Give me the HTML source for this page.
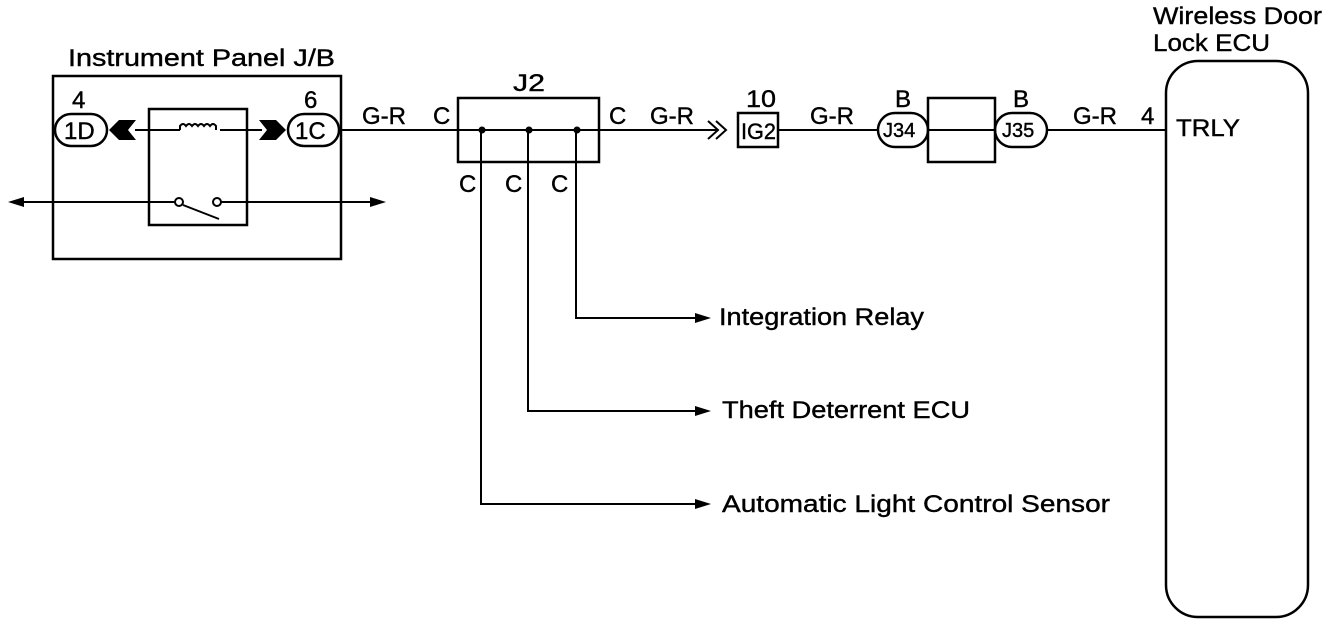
<!DOCTYPE html>
<html><head><meta charset="utf-8"><style>
html,body{margin:0;padding:0;background:#fff;width:1344px;height:626px;overflow:hidden}
text{font-family:"Liberation Sans",sans-serif;fill:#000;stroke:#000;stroke-width:0.4}
</style></head><body>
<svg width="1344" height="626" viewBox="0 0 1344 626" xmlns="http://www.w3.org/2000/svg">
<g fill="none" stroke="#000" stroke-width="2.5">
<rect x="53" y="76" width="288" height="183"/>
<rect x="149" y="109" width="98" height="116"/>
<rect x="55" y="114" width="52" height="32" rx="16"/>
<rect x="288" y="114" width="51" height="32" rx="16"/>
<line x1="135" y1="130" x2="180" y2="130" stroke-width="2"/>
<line x1="220" y1="130" x2="262" y2="130" stroke-width="2"/>
<path d="M180 130 v-4 q3 -4 6 0 q3 -4 6 0 q3 -4 6 0 q3 -4 6 0 q3 -4 6 0 q3 -4 6 0 v4" stroke-width="2"/>
<line x1="16" y1="202" x2="175" y2="202" stroke-width="2"/>
<line x1="221" y1="202" x2="372" y2="202" stroke-width="2"/>
<circle cx="179" cy="202" r="4" stroke-width="2"/>
<circle cx="217" cy="202" r="4" stroke-width="2"/>
<line x1="183" y1="205" x2="219" y2="219" stroke-width="2"/>
<line x1="339" y1="130" x2="718" y2="130" stroke-width="2"/>
<rect x="458" y="98" width="141" height="64"/>
<path d="M708 121 l10 9 l-10 9 M716 121 l10 9 l-10 9" stroke-width="2"/>
<rect x="738" y="113" width="40" height="34"/>
<line x1="778" y1="130" x2="878" y2="130" stroke-width="2"/>
<rect x="878" y="113" width="50" height="34" rx="17"/>
<rect x="928" y="98" width="67" height="64"/>
<line x1="928" y1="130" x2="995" y2="130" stroke-width="2"/>
<rect x="995" y="113" width="52" height="34" rx="17"/>
<line x1="1047" y1="130" x2="1166" y2="130" stroke-width="2"/>
<rect x="1166" y="61" width="142" height="556" rx="32"/>
<path d="M576 130 V318 H700" stroke-width="2"/>
<path d="M528 130 V411 H700" stroke-width="2"/>
<path d="M481 130 V504 H700" stroke-width="2"/>
</g>
<g fill="#000">
<path d="M109 130 l10 -10 h17 l-8 10 l8 10 h-17z"/>
<path d="M286 130 l-10 -10 h-17 l8 10 l-8 10 h17z"/>
<path d="M8 202 l16 -5 v10z"/>
<path d="M386 202 l-16 -5 v10z"/>
<circle cx="482" cy="130" r="3.5"/><circle cx="529" cy="130" r="3.5"/><circle cx="577" cy="130" r="3.5"/>
<path d="M711 318 l-16 -5 v10z"/>
<path d="M711 411 l-16 -5 v10z"/>
<path d="M711 504 l-16 -5 v10z"/>
</g>
<g font-size="24">
<text x="68" y="66" textLength="267" lengthAdjust="spacingAndGlyphs">Instrument Panel J/B</text>
<text x="72" y="108">4</text>
<text x="304" y="108">6</text>
<text x="64" y="139">1D</text>
<text x="295" y="139">1C</text>
<text x="362" y="124" textLength="44" lengthAdjust="spacingAndGlyphs">G-R</text>
<text x="433" y="124">C</text>
<text x="513" y="91" textLength="32" lengthAdjust="spacingAndGlyphs">J2</text>
<text x="609" y="124">C</text>
<text x="650" y="124" textLength="44" lengthAdjust="spacingAndGlyphs">G-R</text>
<text x="459" y="192">C</text>
<text x="505" y="192">C</text>
<text x="551" y="192">C</text>
<text x="746" y="107" textLength="30" lengthAdjust="spacingAndGlyphs">10</text>
<text x="741" y="139" font-size="22" textLength="35" lengthAdjust="spacingAndGlyphs">IG2</text>
<text x="810" y="124" textLength="44" lengthAdjust="spacingAndGlyphs">G-R</text>
<text x="895" y="107">B</text>
<text x="1013" y="107">B</text>
<text x="1073" y="124" textLength="44" lengthAdjust="spacingAndGlyphs">G-R</text>
<text x="1141" y="124">4</text>
<text x="1176" y="136" textLength="64" lengthAdjust="spacingAndGlyphs">TRLY</text>
<text x="1153" y="24" textLength="169" lengthAdjust="spacingAndGlyphs">Wireless Door</text>
<text x="1153" y="51" textLength="117" lengthAdjust="spacingAndGlyphs">Lock ECU</text>
<text x="719" y="325" textLength="205" lengthAdjust="spacingAndGlyphs">Integration Relay</text>
<text x="722" y="418" textLength="248" lengthAdjust="spacingAndGlyphs">Theft Deterrent ECU</text>
<text x="722" y="512" textLength="388" lengthAdjust="spacingAndGlyphs">Automatic Light Control Sensor</text>
</g>
<g font-size="20">
<text x="883" y="137">J34</text>
<text x="1002" y="137">J35</text>
</g>
</svg>
</body></html>
